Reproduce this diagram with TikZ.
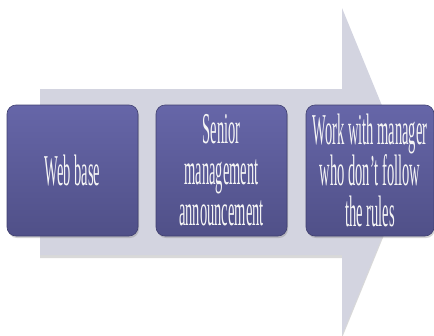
\documentclass[tikz,border=0pt]{standalone}
\usepackage{fontspec}
\setmainfont{Liberation Serif}
\newfontfamily\narrowfont[FakeStretch=0.33]{Liberation Serif}
\usepackage{tikz}
\usetikzlibrary{shadows}

\definecolor{arrowgray}{RGB}{211,212,224}
\definecolor{steptop}{RGB}{102,102,168}
\definecolor{stepbot}{RGB}{80,80,136}
\definecolor{stepedge}{RGB}{64,64,112}

\begin{document}
\begin{tikzpicture}[x=1pt,y=-1pt]
            \tikzset{stepbox/.style = {rectangle, rounded corners=9pt, draw=stepedge, line width=0.6pt,
                top color=steptop, bottom color=stepbot, text=white!92!gray,
                minimum width=131pt, minimum height=131pt, inner sep=0pt,
                align=center, font=\narrowfont\fontsize{44}{41}\selectfont,
                drop shadow={shadow xshift=1pt, shadow yshift=-2pt, opacity=0.35}}}
            \useasboundingbox (0,0) rectangle (434,335);
            % big arrow behind
            \fill[black!25, opacity=0.6] (40,92) -- (342,92) -- (342,11) -- (409,174) -- (342,338) -- (342,258) -- (40,258) -- cycle;
            \fill[arrowgray] (40,89) -- (342,89) -- (342,8) -- (409,171.5) -- (342,335) -- (342,255) -- (40,255) -- cycle;
            % steps
            \node[stepbox] (web) at (72.5,170.5) {Web base};
            \node[stepbox] (senior) at (221.5,170.5) {Senior\\management\\announcement};
            \node[stepbox, minimum width=128pt] (work) at (370,170.5) {Work with manager\\who don’t follow\\the rules};
        \end{tikzpicture}
\end{document}
